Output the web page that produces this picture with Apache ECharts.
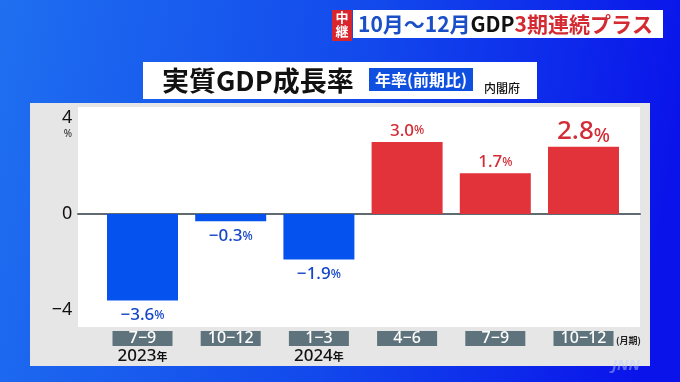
<!DOCTYPE html>
<html><head><meta charset="utf-8">
<script src="https://cdn.jsdelivr.net/npm/echarts@6/dist/echarts.min.js"></script>
<style>html,body{margin:0;padding:0;}#c{width:680px;height:382px;}</style>
</head><body><div id="c"></div>
<script>
const categories = ['7-9', '10-12', '1-3', '4-6', '7-9', '10-12'];
const years = ['2023', '', '2024', '', '', ''];
const growth = [-3.6, -0.3, -1.9, 3.0, 1.7, 2.8];
const yTicks = [-4, 0, 4];

const RED = '#e2323a', BLUE = '#0652ee';
const RED_T = '#d22c35', BLUE_T = '#1546c8';
const JP = '"Noto Sans CJK JP", sans-serif';
const LAT = '"Noto Sans", sans-serif';
const minus = s => String(s).replace(/-/g, '\u2212');

const chart = echarts.init(document.getElementById('c'));
const last = growth.length - 1;

const data = growth.map((v, i) => {
  const pos = v >= 0;
  const big = i === last;
  const col = pos ? RED_T : BLUE_T;
  return {
    value: v,
    itemStyle: { color: pos ? RED : BLUE },
    label: {
      show: true,
      position: pos ? 'top' : 'bottom',
      distance: pos ? 1 : 5,
      formatter: p => '{n|' + minus(p.value.toFixed(1)) + '}{p|%}',
      rich: big ? {
        n: { fontSize: 26, lineHeight: 28, color: col, fontFamily: LAT, fontWeight: 500 },
        p: { fontSize: 19, lineHeight: 28, color: col, fontFamily: LAT, fontWeight: 500, verticalAlign: 'bottom' }
      } : {
        n: { fontSize: 17, lineHeight: 20, color: col, fontFamily: LAT, fontWeight: 500 },
        p: { fontSize: 12, lineHeight: 20, color: col, fontFamily: LAT, fontWeight: 500 }
      }
    }
  };
});

const option = {
  animation: false,
  graphic: [
    { type: 'rect', z: -10, shape: { x: 0, y: 0, width: 680, height: 382 },
      style: { fill: new echarts.graphic.LinearGradient(0, 0, 1, 0.3, [
        { offset: 0, color: '#1f6ff0' }, { offset: 0.55, color: '#1248ec' }, { offset: 1, color: '#0a14ea' }]) } },
    { type: 'rect', z: -9, shape: { x: 30, y: 103, width: 620, height: 263 }, style: { fill: '#e6e6e6' } },
    { type: 'rect', z: -8, shape: { x: 78, y: 107, width: 562, height: 220 }, style: { fill: '#ffffff' } },
    // top banner
    { type: 'rect', z: 5, shape: { x: 332, y: 10, width: 20, height: 31 }, style: { fill: '#d9262e' } },
    { type: 'text', z: 6, style: { x: 342, y: 17.5, text: '中', fill: '#fff', font: 'bold 13px ' + JP, align: 'center', verticalAlign: 'middle' } },
    { type: 'text', z: 6, style: { x: 342, y: 31, text: '継', fill: '#fff', font: 'bold 13px ' + JP, align: 'center', verticalAlign: 'middle' } },
    { type: 'rect', z: 5, shape: { x: 353, y: 10, width: 310, height: 28 }, style: { fill: '#ffffff' } },
    { type: 'text', z: 6, style: { x: 358, y: 24, verticalAlign: 'middle',
      text: '{b|10月〜12月}{k|GDP}{r|3期連続プラス}',
      rich: {
        b: { fill: '#1a4fc8', fontSize: 21, fontWeight: 'bold', fontFamily: JP },
        k: { fill: '#111', fontSize: 21, fontWeight: 'bold', fontFamily: JP },
        r: { fill: '#d42a32', fontSize: 21, fontWeight: 'bold', fontFamily: JP }
      } } },
    // title box
    { type: 'rect', z: 5, shape: { x: 143, y: 62, width: 394, height: 37 }, style: { fill: '#ffffff' } },
    { type: 'text', z: 6, style: { x: 162, y: 80.5, text: '実質GDP成長率', fill: '#111', font: 'bold 27px ' + JP, verticalAlign: 'middle' } },
    { type: 'rect', z: 6, shape: { x: 369, y: 68, width: 104, height: 23 }, style: { fill: '#1050e0' } },
    { type: 'text', z: 7, style: { x: 421, y: 79.5, text: '年率(前期比)', fill: '#fff', font: 'bold 16px ' + JP, align: 'center', verticalAlign: 'middle' } },
    { type: 'text', z: 6, style: { x: 484, y: 88, text: '内閣府', fill: '#111', font: '500 12px ' + JP, verticalAlign: 'middle' } },
    // unit labels
    { type: 'text', z: 6, style: { x: 68, y: 134, text: '%', fill: '#222', font: '10px ' + LAT, align: 'center', verticalAlign: 'middle' } },
    { type: 'text', z: 6, style: { x: 616, y: 341, text: '(月期)', fill: '#222', font: 'bold 9px ' + JP, verticalAlign: 'middle' } },
    { type: 'text', z: 6, style: { x: 612, y: 366, text: 'JNN', fill: 'rgba(190,205,255,0.45)', font: 'italic bold 15px ' + LAT, verticalAlign: 'middle' } }
  ],
  grid: [
    { left: 98.4, right: 52.4, top: 118, bottom: 72 },
    { left: 78, right: 40, top: 118, bottom: 72 }
  ],
  xAxis: [
    { type: 'category', gridIndex: 0, data: categories,
      axisLine: { show: false }, axisTick: { show: false },
      axisLabel: {
        margin: 21, interval: 0,
        formatter: (val, i) => '{b|' + minus(val) + '}' + (years[i] ? '\n{y|' + years[i] + '}{n|年}' : ''),
        rich: {
          b: { backgroundColor: '#5e737b', width: 60, height: 15, lineHeight: 15, align: 'center', color: '#fff', fontSize: 16, fontFamily: LAT, fontWeight: 500 },
          y: { fontSize: 17, lineHeight: 21, color: '#111', fontFamily: LAT, fontWeight: 500 },
          n: { fontSize: 11, lineHeight: 21, color: '#111', fontFamily: JP, fontWeight: 'bold' }
        }
      } },
    { type: 'value', gridIndex: 1, show: true,
      axisLine: { show: true, onZero: true, lineStyle: { color: '#5f6b70', width: 2 } },
      axisTick: { show: false }, axisLabel: { show: false }, splitLine: { show: false } }
  ],
  yAxis: [
    { type: 'value', gridIndex: 0, min: yTicks[0], max: yTicks[yTicks.length - 1], interval: 4,
      axisLine: { show: false }, axisTick: { show: false }, splitLine: { show: false },
      axisLabel: { margin: 26, color: '#111', fontSize: 18, fontFamily: LAT, formatter: v => minus(v) } },
    { type: 'value', gridIndex: 1, min: yTicks[0], max: yTicks[yTicks.length - 1], show: false }
  ],
  series: [
    { type: 'bar', xAxisIndex: 0, yAxisIndex: 0, barWidth: 71, data: data, z: 3 }
  ]
};
chart.setOption(option);
</script>
</body></html>
